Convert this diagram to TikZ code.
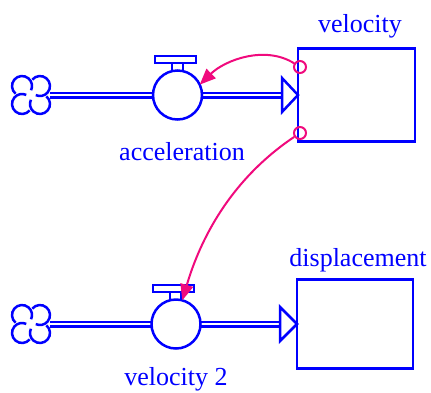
\documentclass[tikz,border=0pt]{standalone}
\usepackage{fontspec}
\setmainfont{Liberation Serif}
\usetikzlibrary{arrows.meta}
\definecolor{sfblue}{RGB}{0,0,255}
\definecolor{sfpink}{RGB}{240,10,125}
\tikzset{
  stock/.style={draw=sfblue, line width=2.5pt, rectangle, inner sep=0pt, outer sep=0pt},
  valve/.style={draw=sfblue, line width=2.5pt, circle, fill=white, minimum size=49pt, inner sep=0pt, outer sep=0pt},
  pipe/.style={draw=sfblue, line width=2.5pt, double=white, double distance=2pt},
  pipehead/.style={draw=sfblue, line width=2.5pt, fill=white, line join=miter},
  cloudline/.style={draw=sfblue, line width=2.5pt},
  stemline/.style={draw=sfblue, line width=2pt, fill=white},
  link/.style={draw=sfpink, line width=2pt, circle, minimum size=12pt, inner sep=0pt},
  infl/.style={draw=sfpink, line width=2pt, -{Triangle[length=16pt,width=13pt]}},
  lbl/.style={text=sfblue, font=\fontsize{26}{30}\selectfont, inner sep=0pt, anchor=base},
  pics/sfcloud/.style={code={
    \foreach \a in {45,135,225,315}{
      \draw[cloudline] (\a:12.7pt) ++(\a+95:10pt) arc[start angle=\a+95, end angle=\a-160, radius=10pt];
    }
  }},
  pics/sfstem/.style={code={
    \draw[stemline] (-6pt,24pt) rectangle (5pt,32pt);
    \draw[stemline] (-23pt,32pt) rectangle (18pt,39pt);
  }}
}
\begin{document}
\begin{tikzpicture}[x=1pt,y=-1pt]
\useasboundingbox (0,0) rectangle (431,392);
% stocks
\node[stock, minimum width=117pt, minimum height=93pt] (vel) at (356.5,95) {};
\node[stock, minimum width=116pt, minimum height=89pt] (disp) at (355,324) {};
% clouds
\coordinate (c1) at (31,95);
\coordinate (c2) at (31,324);
\pic at (c1) {sfcloud};
\pic at (c2) {sfcloud};
% valves
\coordinate (acc) at (177.5,95);
\coordinate (v2c) at (176,324);
\draw[pipe] ([xshift=19pt]c1) -- (acc);
\draw[pipe] (acc) -- ([xshift=-16pt]vel.west);
\draw[pipehead] ([shift={(-16pt,17pt)}]vel.west) -- (vel.west) -- ([shift={(-16pt,-17pt)}]vel.west) -- cycle;
\draw[pipe] ([xshift=19pt]c2) -- (v2c);
\draw[pipe] (v2c) -- ([xshift=-17pt]disp.west);
\draw[pipehead] ([shift={(-17pt,17pt)}]disp.west) -- (disp.west) -- ([shift={(-17pt,-17pt)}]disp.west) -- cycle;
\pic at (acc) {sfstem};
\pic at (v2c) {sfstem};
\node[valve] (accv) at (acc) {};
\node[valve] (v2) at (v2c) {};
% labels
\node[lbl] (tvel) at (360,32) {velocity};
\node[lbl] (tacc) at (182,160) {acceleration};
\node[lbl] (tdisp) at (358,266) {displacement};
\node[lbl] (tv2) at (176,385) {velocity 2};
% links
\node[link] (p1) at (300,67) {};
\node[link] (p2) at (300,133) {};
\draw[infl] (p1) .. controls (265,45) and (225,60) .. (accv.25);
\draw[infl] (p2) .. controls (230,180) and (200,240) .. (v2.75);
\end{tikzpicture}
\end{document}
